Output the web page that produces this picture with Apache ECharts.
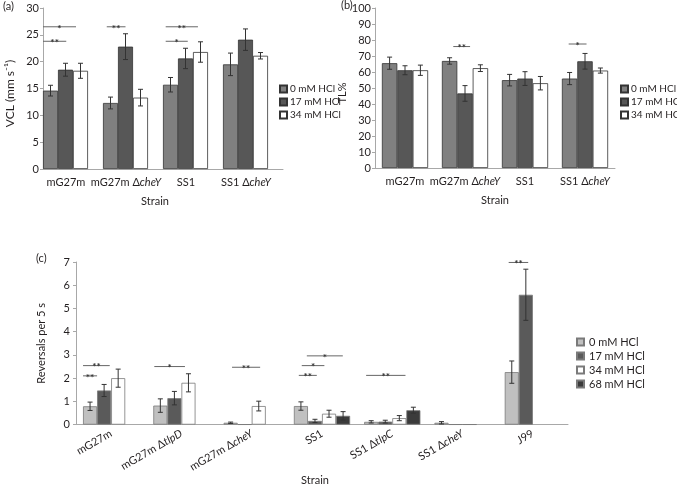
<!DOCTYPE html>
<html><head><meta charset="utf-8">
<script src="https://cdn.jsdelivr.net/npm/echarts@6/dist/echarts.min.js"></script>
<style>html,body{margin:0;padding:0;background:#fff}#c{width:677px;height:487px}</style>
</head><body><div id="c"></div>
<script>
// ---- data ----
const catsAB = ['mG27m', 'mG27m ΔcheY', 'SS1', 'SS1 ΔcheY'];
const hclAB = ['0 mM HCl', '17 mM HCl', '34 mM HCl'];
const vcl0 = [14.6, 12.3, 15.7, 19.5];
const vcl17 = [18.5, 22.8, 20.6, 24.1];
const vcl34 = [18.3, 13.3, 21.8, 21.1];
const vclErr0 = [1.0, 1.1, 1.35, 2.1];
const vclErr17 = [1.2, 2.4, 1.9, 2.0];
const vclErr34 = [1.4, 1.55, 1.9, 0.6];
const tl0 = [65.5, 66.9, 54.9, 55.9];
const tl17 = [61.1, 46.6, 55.9, 66.7];
const tl34 = [61.1, 62.4, 53.0, 60.9];
const tlErr0 = [3.8, 2.0, 3.6, 3.8];
const tlErr17 = [2.8, 4.9, 4.3, 4.9];
const tlErr34 = [3.2, 2.1, 4.2, 1.6];
const catsC = ['mG27m', 'mG27m ΔtlpD', 'mG27m ΔcheY', 'SS1', 'SS1 ΔtlpC', 'SS1 ΔcheY', 'J99'];
const hclC = ['0 mM HCl', '17 mM HCl', '34 mM HCl', '68 mM HCl'];
const rev0 = [0.79, 0.82, 0.08, 0.80, 0.12, 0.08, 2.26];
const rev17 = [1.47, 1.14, 0.01, 0.16, 0.13, 0.01, 5.59];
const rev34 = [2.00, 1.80, 0.80, 0.47, 0.28, 0.01, null];
const rev68 = [null, null, null, 0.38, 0.62, null, null];
const revErr0 = [0.18, 0.29, 0.03, 0.18, 0.05, 0.05, 0.48];
const revErr17 = [0.26, 0.29, 0, 0.07, 0.06, 0, 1.10];
const revErr34 = [0.39, 0.39, 0.21, 0.15, 0.11, 0, null];
const revErr68 = [null, null, null, 0.18, 0.13, null, null];
// significance: [category, y value, start slot, end slot, label]
const sigA = [[0, 26.5, 0, 2.2, '*'], [0, 23.8, 0, 1.55, '**'], [1, 26.5, 0.25, 1.5, '**'], [2, 26.5, 0.18, 2.33, '**'], [2, 23.8, 0.18, 1.65, '*']];
const sigB = [[1, 75.9, 0.74, 1.83, '**'], [3, 77.5, 0.44, 1.6, '*']];
const sigC = [[0, 2.54, 0, 1.9, '**'], [0, 2.1, 0, 1.0, '**'], [1, 2.5, 0.07, 2.25, '*'], [2, 2.47, 0.6, 2.6, '**'], [3, 2.12, 0.35, 1.63, '**'], [3, 2.54, 0.56, 2.17, '*'], [3, 2.96, 0.92, 3.48, '*'], [4, 2.12, 0.14, 2.94, '**'], [6, 6.98, 0.28, 1.67, '**']];

// ---- styles ----
const FONT = 'Lato';
const TXT = '#231f20';
const colAB = ['#808080', '#575757', '#ffffff'];
const colC = ['#c0c0c0', '#5a5a5a', '#ffffff', '#3b3b3b'];

// group geometry per panel: returns {left, w}
const geom = {
  a: (c, bw) => ({ left: c - bw / 2, w: bw / 4 }),
  b: (c, bw) => { const g = bw * 0.77; return { left: c - g / 2, w: g / 3 }; },
  c: (c, bw) => { const g = bw * 0.8; return { left: c - g / 2, w: g / 4 }; }
};

function errSeries(panel, gi, slot, vals, errs) {
  const data = [];
  vals.forEach((v, i) => { if (v != null && errs[i]) data.push([i, v, errs[i]]); });
  return {
    type: 'custom', xAxisIndex: gi, yAxisIndex: gi, z: 5, silent: true, data,
    renderItem(params, api) {
      const cat = api.value(0), v = api.value(1), e = api.value(2);
      const p = api.coord([cat, v]);
      const bw = api.size([1, 0])[0];
      const g = geom[panel](p[0], bw);
      const x = g.left + (slot + 0.5) * g.w;
      const hi = api.coord([cat, v + e])[1];
      const lo = api.coord([cat, Math.max(v - e, 0)])[1];
      const cap = 2.5;
      const st = { stroke: '#333', lineWidth: 1 };
      return { type: 'group', children: [
        { type: 'line', shape: { x1: x, y1: hi, x2: x, y2: lo }, style: st },
        { type: 'line', shape: { x1: x - cap, y1: hi, x2: x + cap, y2: hi }, style: st },
        { type: 'line', shape: { x1: x - cap, y1: lo, x2: x + cap, y2: lo }, style: st }
      ]};
    }
  };
}

function sigSeries(panel, gi, sig) {
  return {
    type: 'custom', xAxisIndex: gi, yAxisIndex: gi, z: 6, silent: true,
    data: sig.map(s => [s[0], s[1], s[2], s[3]]),
    renderItem(params, api) {
      const cat = api.value(0), y = api.value(1), s0 = api.value(2), s1 = api.value(3);
      const p = api.coord([cat, y]);
      const bw = api.size([1, 0])[0];
      const g = geom[panel](p[0], bw);
      const x1 = g.left + s0 * g.w, x2 = g.left + s1 * g.w;
      return { type: 'group', children: [
        { type: 'line', shape: { x1, y1: p[1], x2, y2: p[1] }, style: { stroke: '#666', lineWidth: 1 } },
        { type: 'text', x: (x1 + x2) / 2, y: p[1] + 1.5, style: { text: sig[params.dataIndex][4], fill: '#333', font: 'bold 10px ' + FONT, align: 'center', verticalAlign: 'middle' } }
      ]};
    }
  };
}

function barSeries(name, gi, vals, color, border, extra) {
  return Object.assign({
    type: 'bar', name, xAxisIndex: gi, yAxisIndex: gi, barGap: '0%',
    data: vals.map(v => v == null ? '-' : v),
    itemStyle: { color, borderColor: border, borderWidth: 0.8 },
    emphasis: { disabled: true }, z: 2
  }, extra || {});
}

function catLabel(v) {
  const i = v.indexOf('Δ');
  if (i < 0) return '{r|' + v + '}';
  return '{r|' + v.slice(0, i + 1) + '}{i|' + v.slice(i + 1) + '}';
}
const rich = {
  r: { fontFamily: FONT, fontSize: 11, color: TXT },
  i: { fontFamily: FONT, fontSize: 11, color: TXT, fontStyle: 'italic' }
};
const axisLine = { lineStyle: { color: '#a8a8a8', width: 1 } };
const axisTick = { lineStyle: { color: '#a8a8a8' }, length: 3 };
const legendText = { fontFamily: FONT, fontSize: 10, color: TXT, lineHeight: 12, padding: [0, 0, 0, -2] };

const option = {
  animation: false,
  textStyle: { fontFamily: FONT, color: TXT },
  graphic: [
    { type: 'text', left: 3, top: 1, style: { text: '(a)', font: '11px ' + FONT, fill: TXT } },
    { type: 'text', left: 341, top: 0, style: { text: '(b)', font: '11px ' + FONT, fill: TXT } },
    { type: 'text', left: 36, top: 253, style: { text: '(c)', font: '11px ' + FONT, fill: TXT } }
  ],
  grid: [
    { left: 43, right: 394, top: 8, bottom: 318 },
    { left: 375, right: 62, top: 8, bottom: 319 },
    { left: 76, right: 109, top: 262, bottom: 48 }
  ],
  legend: [
    { data: hclAB, left: 274, top: 78, orient: 'vertical', itemWidth: 7, itemHeight: 7, itemGap: 1, selectedMode: false,
      textStyle: legendText, icon: 'rect' },
    { data: hclAB, left: 615, top: 78, orient: 'vertical', itemWidth: 7, itemHeight: 7, itemGap: 1, selectedMode: false,
      textStyle: legendText, icon: 'rect' },
    { data: hclC.map(n => n + '#c'), left: 571, top: 331, orient: 'vertical', itemWidth: 7, itemHeight: 7, itemGap: 2, selectedMode: false,
      formatter: n => n.split('#')[0],
      textStyle: { fontFamily: FONT, fontSize: 11, color: TXT, lineHeight: 12 }, icon: 'rect' }
  ],
  xAxis: [
    { gridIndex: 0, type: 'category', data: catsAB, axisLine, axisTick,
      axisLabel: { formatter: catLabel, rich, margin: 8, interval: 0, padding: [0, 14, 0, 0] },
      name: 'Strain', nameLocation: 'middle', nameGap: 27, nameTextStyle: { fontFamily: FONT, fontSize: 11, color: TXT, padding: [0, 16, 0, 0] } },
    { gridIndex: 1, type: 'category', data: catsAB, axisLine, axisTick,
      axisLabel: { formatter: catLabel, rich, margin: 8, interval: 0 },
      name: 'Strain', nameLocation: 'middle', nameGap: 27, nameTextStyle: { fontFamily: FONT, fontSize: 11, color: TXT } },
    { gridIndex: 2, type: 'category', data: catsC, axisLine, axisTick,
      axisLabel: { formatter: catLabel, rich, margin: 8, rotate: 30, interval: 0 },
      name: 'Strain', nameLocation: 'middle', nameGap: 32, nameTextStyle: { fontFamily: FONT, fontSize: 11, color: TXT, padding: [0, 14, 0, 0] } }
  ],
  yAxis: [
    { gridIndex: 0, type: 'value', min: 0, max: 30, interval: 5, splitLine: { show: false },
      axisLine: Object.assign({ show: true }, axisLine), axisTick: Object.assign({ show: true }, axisTick),
      axisLabel: { fontFamily: FONT, fontSize: 11, color: TXT, margin: 4 },
      name: 'VCL (mm s⁻¹)', nameLocation: 'middle', nameGap: 27, nameTextStyle: { fontFamily: FONT, fontSize: 12, color: TXT, padding: [0, 10, 0, 0] } },
    { gridIndex: 1, type: 'value', min: 0, max: 100, interval: 10, splitLine: { show: false },
      axisLine: Object.assign({ show: true }, axisLine), axisTick: Object.assign({ show: true }, axisTick),
      axisLabel: { fontFamily: FONT, fontSize: 11, color: TXT, margin: 4 },
      name: 'TL%', nameLocation: 'middle', nameGap: 20, nameTextStyle: { fontFamily: FONT, fontSize: 11, color: TXT, padding: [0, 10, 0, 0] } },
    { gridIndex: 2, type: 'value', min: 0, max: 7, interval: 1, splitLine: { show: false },
      axisLine: Object.assign({ show: true }, axisLine), axisTick: Object.assign({ show: true }, axisTick),
      axisLabel: { fontFamily: FONT, fontSize: 11, color: TXT, margin: 6 },
      name: 'Reversals per 5 s', nameLocation: 'middle', nameGap: 29, nameTextStyle: { fontFamily: FONT, fontSize: 11, color: TXT } }
  ],
  series: [
    barSeries(hclAB[0], 0, vcl0, colAB[0], '#333', { barCategoryGap: '0%' }),
    barSeries(hclAB[1], 0, vcl17, colAB[1], '#333'),
    barSeries(hclAB[2], 0, vcl34, colAB[2], '#333'),
    barSeries('pad', 0, [null, null, null, null], 'rgba(0,0,0,0)', 'rgba(0,0,0,0)'),
    errSeries('a', 0, 0, vcl0, vclErr0),
    errSeries('a', 0, 1, vcl17, vclErr17),
    errSeries('a', 0, 2, vcl34, vclErr34),
    sigSeries('a', 0, sigA),

    barSeries(hclAB[0], 1, tl0, colAB[0], '#333', { barCategoryGap: '23%' }),
    barSeries(hclAB[1], 1, tl17, colAB[1], '#333'),
    barSeries(hclAB[2], 1, tl34, colAB[2], '#333'),
    errSeries('b', 1, 0, tl0, tlErr0),
    errSeries('b', 1, 1, tl17, tlErr17),
    errSeries('b', 1, 2, tl34, tlErr34),
    sigSeries('b', 1, sigB),

    barSeries(hclC[0] + '#c', 2, rev0, colC[0], '#7a7a7a', { barCategoryGap: '20%' }),
    barSeries(hclC[1] + '#c', 2, rev17, colC[1], '#7a7a7a'),
    barSeries(hclC[2] + '#c', 2, rev34, colC[2], '#7a7a7a'),
    barSeries(hclC[3] + '#c', 2, rev68, colC[3], '#7a7a7a'),
    errSeries('c', 2, 0, rev0, revErr0),
    errSeries('c', 2, 1, rev17, revErr17),
    errSeries('c', 2, 2, rev34, revErr34),
    errSeries('c', 2, 3, rev68, revErr68),
    sigSeries('c', 2, sigC)
  ]
};
const chart = echarts.init(document.getElementById('c'), null, { renderer: 'canvas' });
chart.setOption(option);
</script>
</body></html>
